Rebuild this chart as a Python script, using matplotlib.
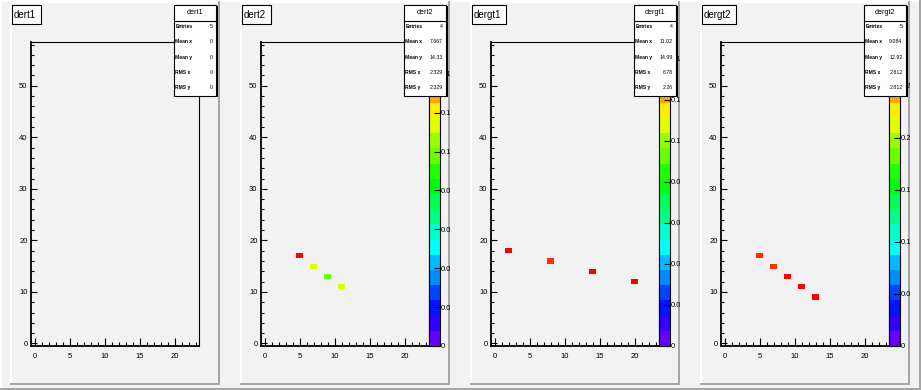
import colorsys
import numpy as np
import matplotlib
matplotlib.use("Agg")
import matplotlib.pyplot as plt
from matplotlib.colors import ListedColormap, BoundaryNorm
from matplotlib.patches import Rectangle
from matplotlib.ticker import MultipleLocator

plt.rcParams['font.family'] = ['Liberation Sans', 'DejaVu Sans']

W, H = 921, 390

# histogram names and filled bins (x, y, content)
names = ["dert1", "dert2", "dergt1", "dergt2"]
bin_x = [[], [5, 7, 9, 11], [2, 8, 14, 20], [5, 7, 9, 11, 13]]
bin_y = [[], [17, 15, 13, 11], [18, 16, 14, 12], [17, 15, 13, 11, 9]]
bin_w = [[],
         [0.156, 0.112, 0.094, 0.112],
         [0.1475, 0.137, 0.145, 0.146],
         [0.271, 0.271, 0.29, 0.29, 0.29]]
z_max = [None, 0.1563, 0.148, 0.292]
z_ticks = [[],
           [0, 0.02, 0.04, 0.06, 0.08, 0.1, 0.12, 0.14],
           [0, 0.02, 0.04, 0.06, 0.08, 0.1, 0.12, 0.14],
           [0, 0.05, 0.1, 0.15, 0.2, 0.25]]
z_labels = [[],
            ["0", "0.02", "0.04", "0.06", "0.08", "0.1", "0.12", "0.14"],
            ["0", "0.02", "0.04", "0.06", "0.08", "0.1", "0.12", "0.14"],
            ["0", "0.05", "0.1", "0.15", "0.2", "0.25"]]

# stats box contents
stat_names = ["Entries", "Mean x", "Mean y", "RMS x", "RMS y"]
entries = ["5", "4", "4", "5"]
mean_x = ["0", "7.667", "11.02", "9.084"]
mean_y = ["0", "14.33", "14.99", "12.92"]
rms_x = ["0", "2.329", "6.78", "2.812"]
rms_y = ["0", "2.329", "2.26", "2.812"]

x_edges = np.arange(-0.5, 24.0, 1.0)
y_edges = np.arange(-0.5, 59.0, 1.0)

# ROOT "pretty" palette: 50 colours, 20 contour levels
pal = [colorsys.hls_to_rgb((280 - (i + 1) * 280 / 50) / 360, 0.5, 1.0) for i in range(50)]
level_cols = [pal[int((k + 0.99) * 50 / 20)] for k in range(20)]
cmap = ListedColormap(level_cols)
cmap.set_over(level_cols[-1])

PAD_BG = "#f2f2f2"
GREY = "#a6a6a6"


def rect(x0, y0, x1, y1):
    # pixel box (top-left origin) -> figure fraction
    return [x0 / W, 1 - y1 / H, (x1 - x0) / W, (y1 - y0) / H]


fig = plt.figure(figsize=(W / 100, H / 100), dpi=100)
fig.patch.set_facecolor(PAD_BG)

# canvas and pad bevels
bg = fig.add_axes([0, 0, 1, 1], zorder=-5)
bg.set_xlim(0, W)
bg.set_ylim(H, 0)
bg.axis("off")
bg.add_patch(Rectangle((0, 0), W, 1.5, color="white", lw=0))
bg.add_patch(Rectangle((0, 0), 1.5, H, color="white", lw=0))
bg.add_patch(Rectangle((0, H - 2), W, 2, color=GREY, lw=0))
bg.add_patch(Rectangle((W - 2, 0), 2, H, color=GREY, lw=0))

title_w = [29, 29, 34, 34]

for i, name in enumerate(names):
    off = 230 * i
    L, R, T, B = 10 + off, 220 + off, 1, 385
    bg.add_patch(Rectangle((L, T), R - L, B - T, color=PAD_BG, lw=0))
    bg.add_patch(Rectangle((L, T), 2, B - T, color="white", lw=0))
    bg.add_patch(Rectangle((L, T), R - L, 2, color="white", lw=0))
    bg.add_patch(Rectangle((R - 2, T), 2, B - T, color=GREY, lw=0))
    bg.add_patch(Rectangle((L, B - 2), R - L, 2, color=GREY, lw=0))

    ax = fig.add_axes(rect(31 + off, 42, 199 + off, 346))
    ax.set_facecolor("none")
    counts, _, _ = np.histogram2d(bin_x[i], bin_y[i], bins=[x_edges, y_edges],
                                  weights=bin_w[i] if bin_w[i] else None)
    z = np.ma.masked_equal(counts.T, 0)
    vmax = z_max[i] if z_max[i] else 1.0
    norm = BoundaryNorm(np.linspace(0, vmax, 21), 20)
    mesh = ax.pcolormesh(x_edges, y_edges, z, cmap=cmap, norm=norm)
    ax.set_xlim(-0.5, 23.5)
    ax.set_ylim(-0.5, 58.5)
    ax.xaxis.set_major_locator(MultipleLocator(5))
    ax.xaxis.set_minor_locator(MultipleLocator(1))
    ax.yaxis.set_major_locator(MultipleLocator(10))
    ax.yaxis.set_minor_locator(MultipleLocator(2))
    ax.tick_params(which="both", direction="in", width=0.8, labelsize=5.5)
    ax.tick_params(axis="x", which="major", length=5.5, pad=5)
    ax.tick_params(axis="x", which="minor", length=2.8)
    ax.tick_params(axis="y", which="major", length=4.5, pad=2.5)
    ax.tick_params(axis="y", which="minor", length=2.2)
    for s in ["top", "right"]:
        ax.spines[s].set_linewidth(0.8)
    for s in ["left", "bottom"]:
        ax.spines[s].set_linewidth(1.3)

    # overlay for the pad (title, stats box), pixel coords
    ov = fig.add_axes(rect(L, T, R, B), zorder=5)
    ov.set_xlim(L, R)
    ov.set_ylim(B, T)
    ov.axis("off")
    ov.patch.set_alpha(0)

    if z_max[i]:
        cax = fig.add_axes(rect(199 + off, 42, 210 + off, 346))
        cb = fig.colorbar(mesh, cax=cax)
        cb.set_ticks(z_ticks[i])
        cb.set_ticklabels(z_labels[i])
        cb.outline.set_linewidth(0.8)
        cax.tick_params(direction="in", length=4, width=0.8, labelsize=5.5, pad=0.8)
        cax.minorticks_off()
        for t in cax.yaxis.get_major_ticks():
            t.label2.set_clip_box(ov.bbox)

    # title box
    tw = title_w[i]
    ov.add_patch(Rectangle((off + 13.2, 6.2), tw, 19, color="black", lw=0))
    ov.add_patch(Rectangle((off + 12, 5), tw, 19, facecolor="white",
                           edgecolor="black", lw=0.8))
    ov.text(off + 14, 14.8, name, fontsize=7, ha="left", va="center")

    # stats box
    sx0, sx1, sy0, sy1 = off + 174, off + 216, 4.5, 95.5
    ov.add_patch(Rectangle((sx0 + 1.5, sy0 + 1.5), sx1 - sx0, sy1 - sy0,
                           color="black", lw=0))
    ov.add_patch(Rectangle((sx0, sy0), sx1 - sx0, sy1 - sy0, facecolor="white",
                           edgecolor="black", lw=0.8))
    ov.plot([sx0, sx1], [20.5, 20.5], color="black", lw=0.8)
    ov.text((sx0 + sx1) / 2, 12.5, name, fontsize=5.2, ha="center", va="center")
    vals = [entries[i], mean_x[i], mean_y[i], rms_x[i], rms_y[i]]
    for k, (lab, v) in enumerate(zip(stat_names, vals)):
        yy = 26.5 + k * 15.3
        ov.text(sx0 + 1.2, yy, lab, fontsize=3.6, fontweight="bold",
                ha="left", va="center")
        ov.text(sx1 - 3.5, yy, v, fontsize=3.8, ha="right", va="center")

fig.savefig("out.png", dpi=100, facecolor=fig.get_facecolor())
